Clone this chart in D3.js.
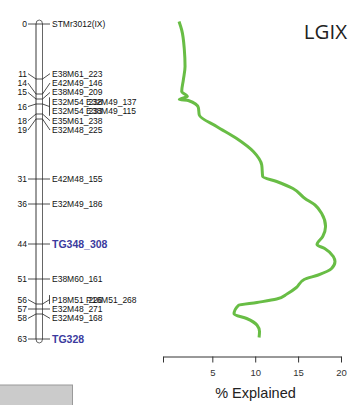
<!DOCTYPE html>
<html>
<head>
<meta charset="utf-8">
<script src="https://cdn.jsdelivr.net/npm/d3@7"></script>
<style>
  body { margin: 0; background: #fff; }
  svg { display: block; }
</style>
</head>
<body>
<div id="chart"></div>
<script>
// Linkage group markers (cM position + name)
const markerPos = [0, 11, 14, 15, 16, 16, 16, 16, 18, 19, 31, 36, 44, 51, 56, 56, 57, 58, 63];
const markerNames = ['STMr3012(IX)', 'E38M61_223', 'E42M49_146', 'E38M49_209', 'E32M54_238', 'E32M49_137',
  'E32M54_233', 'E38M49_115', 'E35M61_238', 'E32M48_225', 'E42M48_155', 'E32M49_186', 'TG348_308',
  'E38M60_161', 'P18M51_226', 'P16M51_268', 'E32M48_271', 'E32M49_168', 'TG328'];
const highlighted = ['TG348_308', 'TG328'];

// % explained profile along the group
const curveCM = [-0.5, 1.2, 5.2, 8.5, 11.2, 13.5, 14.5, 15.1, 15.3, 16.7, 18.2, 20.5, 22.9, 25.5, 28.2, 30.5,
  31.5, 32.9, 34.9, 36.2, 37.9, 40.5, 42.5, 44.1, 44.9, 46.5, 47.5, 48.9, 50.2, 51.1, 52.7, 54, 55, 55.7,
  56.3, 58, 58.9, 60.2, 61.5, 62.7];
const curvePct = [1.12, 1.43, 1.74, 1.82, 1.62, 1.43, 2.09, 1.15, 2.2, 3.37, 3.48, 5.5, 7.84, 9.78, 10.76, 10.87,
  12.5, 14.4, 15.8, 16.97, 17.75, 18.2, 17.87, 17.2, 18.1, 19.1, 19.3, 18.9, 17.35, 15.7, 14.8, 13.7, 12.5, 10.2,
  8.03, 7.53, 9.0, 10.2, 10.5, 10.45];
const pctTicks = [5, 10, 15, 20];

const width = 350;
const height = 405;
const font = '"Liberation Sans", Arial, sans-serif';

const svg = d3.select('#chart').append('svg').attr('width', width).attr('height', height);

const y = d3.scaleLinear().domain([0, 63]).range([24, 339]);
const xMin = -0.75;
const x = d3.scaleLinear().domain([xMin, 20]).range([163, 341]);

/* Chromosome
=========================================================================*/
const chrL = 36, chrR = 42.5;
const chrom = svg.append('g');

chrom.append('rect')
  .attr('x', chrL).attr('y', y(0) - 4)
  .attr('width', chrR - chrL).attr('height', y(63) - y(0) + 8)
  .attr('rx', (chrR - chrL) / 2).attr('ry', 4)
  .attr('fill', 'none').attr('stroke', '#666').attr('stroke-width', 1);
chrom.append('line')
  .attr('x1', chrL).attr('x2', chrL).attr('y1', y(0)).attr('y2', y(63))
  .attr('stroke', '#999').attr('stroke-width', 1.8);

// group markers sharing a position, 2 per row
const groups = [];
markerPos.forEach((p, i) => {
  let g = groups.find((d) => d.pos === p);
  if (!g) { g = { pos: p, names: [] }; groups.push(g); }
  g.names.push(markerNames[i]);
});
groups.forEach((g) => { g.rows = Math.ceil(g.names.length / 2); });

// spread labels so they do not overlap
const gap = 9.4;
let clusters = groups.map((g) => ({ items: [g], rows: g.rows, top: y(g.pos) - g.rows * gap / 2 }));
let moved = true;
while (moved) {
  moved = false;
  for (let i = 1; i < clusters.length; i++) {
    const a = clusters[i - 1], b = clusters[i];
    if (b.top < a.top + a.rows * gap - 0.01) {
      const items = a.items.concat(b.items);
      let off = 0, sum = 0, n = 0;
      items.forEach((g) => {
        sum += (y(g.pos) - off * gap - g.rows * gap / 2) * g.rows;
        n += g.rows;
        off += g.rows;
      });
      clusters.splice(i - 1, 2, { items, rows: n, top: sum / n });
      moved = true;
      break;
    }
  }
}
clusters.forEach((c) => {
  let r = 0;
  c.items.forEach((g) => {
    g.rowY = d3.range(g.rows).map((k) => c.top + (r + k + 0.5) * gap);
    g.labelY = d3.mean(g.rowY);
    r += g.rows;
  });
});

const links = svg.append('g').attr('stroke', '#222').attr('stroke-width', 0.8).attr('fill', 'none');
groups.forEach((g) => {
  const my = y(g.pos);
  links.append('path').attr('d', `M28,${g.labelY}L${chrL},${my}L${chrR},${my}`);
  if (g.names.length > 1) {
    links.append('path').attr('d', `M${chrR},${my}L49.5,${g.labelY}`);
    links.append('line')
      .attr('x1', 49.5).attr('x2', 49.5)
      .attr('y1', g.rowY[0] - 4.5).attr('y2', g.rowY[g.rows - 1] + 4.5);
  } else {
    links.append('path').attr('d', `M${chrR},${my}L50,${g.labelY}`);
  }
});

// cM labels
svg.append('g')
  .selectAll('text')
  .data(groups)
  .enter()
  .append('text')
  .attr('x', 27)
  .attr('y', (d) => d.labelY)
  .attr('dy', '0.35em')
  .attr('text-anchor', 'end')
  .style('font-family', font)
  .style('font-size', '8.5px')
  .attr('fill', '#111')
  .text((d) => d.pos);

// marker names
const nameRows = [];
groups.forEach((g) => g.names.forEach((n, i) => {
  nameRows.push({ name: n, x: 52 + (i % 2) * 34, y: g.rowY[Math.floor(i / 2)] });
}));

svg.append('g')
  .selectAll('text')
  .data(nameRows)
  .enter()
  .append('text')
  .attr('x', (d) => d.x)
  .attr('y', (d) => d.y)
  .attr('dy', '0.35em')
  .style('font-family', font)
  .style('font-size', (d) => (highlighted.includes(d.name) ? '10.5px' : '8.5px'))
  .style('font-weight', (d) => (highlighted.includes(d.name) ? 'bold' : 'normal'))
  .attr('fill', (d) => (highlighted.includes(d.name) ? '#3b3b9e' : '#111'))
  .text((d) => d.name);

/* % explained profile
=========================================================================*/
const line = d3.line()
  .x((d) => x(d[1]))
  .y((d) => y(d[0]))
  .curve(d3.curveMonotoneY);

svg.append('path')
  .datum(curveCM.map((c, i) => [c, curvePct[i]]))
  .attr('d', line)
  .attr('fill', 'none')
  .attr('stroke', '#68bd45')
  .attr('stroke-width', 3)
  .attr('stroke-linejoin', 'round');

const axis = svg.append('g')
  .attr('transform', 'translate(0,356.5)')
  .call(d3.axisBottom(x).tickValues([xMin, ...pctTicks]).tickFormat((d) => (d === xMin ? '' : d))
    .tickSize(6).tickPadding(7).tickSizeOuter(0));
axis.select('.domain').attr('stroke', '#333');
axis.selectAll('.tick line').attr('stroke', '#333');
axis.selectAll('text').style('font-family', font).style('font-size', '9.5px').attr('fill', '#333');

svg.append('text')
  .attr('x', 255.5)
  .attr('y', 398)
  .attr('text-anchor', 'middle')
  .style('font-family', font)
  .style('font-size', '14.5px')
  .attr('fill', '#222')
  .text('% Explained');

svg.append('text')
  .attr('x', 347)
  .attr('y', 38.5)
  .attr('text-anchor', 'end')
  .style('font-family', '"Open Sans", sans-serif')
  .style('font-size', '20.5px')
  .attr('fill', '#222')
  .text('LGIX');

// grey box, bottom left
svg.append('rect')
  .attr('x', -1).attr('y', 385)
  .attr('width', 73.5).attr('height', 25)
  .attr('fill', '#cbcbcb').attr('stroke', '#9a9a9a');
</script>
</body>
</html>
